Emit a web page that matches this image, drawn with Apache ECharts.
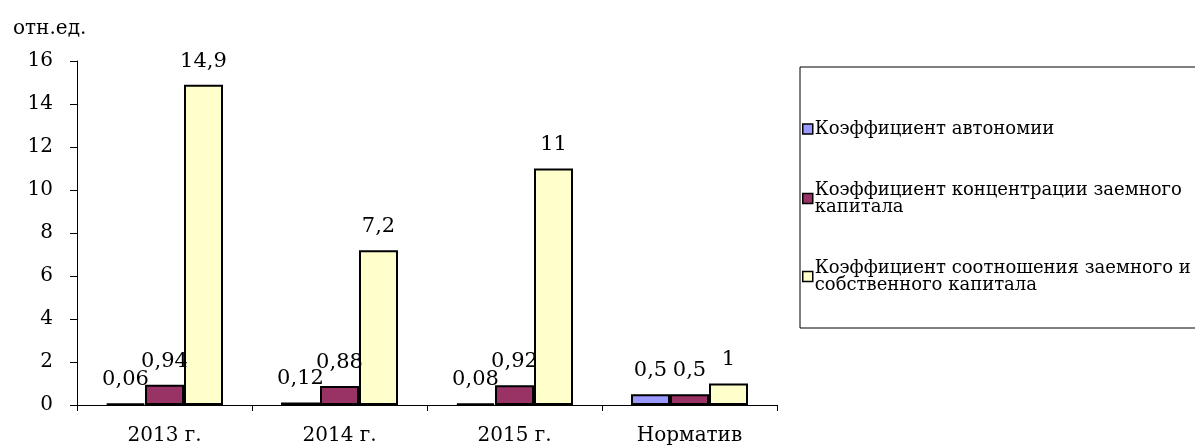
<!DOCTYPE html>
<html>
<head>
<meta charset="utf-8">
<script src="https://cdn.jsdelivr.net/npm/echarts@6/dist/echarts.min.js"></script>
<style>
html,body{margin:0;padding:0;background:#fff;}
#chart{width:1195px;height:448px;}
</style>
</head>
<body>
<div id="chart"></div>
<script>
const categories = ['2013 г.', '2014 г.', '2015 г.', 'Норматив'];
const seriesNames = ['Коэффициент автономии', 'Коэффициент концентрации заемного капитала', 'Коэффициент соотношения заемного и собственного капитала'];
const autonomy = [0.06, 0.12, 0.08, 0.5];
const concentration = [0.94, 0.88, 0.92, 0.5];
const ratio = [14.9, 7.2, 11, 1];
const colors = ['#9999FF', '#993366', '#FFFFCC'];
const legendWrapped = {
  'Коэффициент автономии': 'Коэффициент автономии',
  'Коэффициент концентрации заемного капитала': 'Коэффициент концентрации заемного\nкапитала',
  'Коэффициент соотношения заемного и собственного капитала': 'Коэффициент соотношения заемного и\nсобственного капитала'
};
const FONT = '"DejaVu Serif", "Liberation Serif", serif';

const chart = echarts.init(document.getElementById('chart'));
function mkSeries(i, data) {
  return {
    name: seriesNames[i],
    type: 'bar',
    data: data,
    barWidth: 39,
    barGap: '0%',
    itemStyle: { color: colors[i], borderColor: '#000', borderWidth: 2 },
    label: {
      show: true, position: 'top', distance: 13,
      fontFamily: FONT, fontSize: 21, color: '#000',
      formatter: p => String(p.value).replace('.', ',')
    }
  };
}
chart.setOption({
  animation: false,
  title: {
    text: 'отн.ед.', left: 8, top: 14,
    textStyle: { fontFamily: FONT, fontSize: 20, fontWeight: 'normal', color: '#000' }
  },
  grid: { left: 77, right: 418, top: 61, bottom: 43 },
  legend: {
    orient: 'vertical', left: 800, top: 67,
    width: 460,
    padding: [53, 60, 34, 2],
    itemGap: 43,
    itemWidth: 10, itemHeight: 10,
    borderColor: '#000', borderWidth: 1,
    icon: 'rect',
    itemStyle: { borderColor: '#000', borderWidth: 1.5 },
    textStyle: { fontFamily: FONT, fontSize: 18, color: '#000', lineHeight: 17, padding: [0, 0, 0, -3] },
    formatter: n => legendWrapped[n] || n,
    data: seriesNames
  },
  xAxis: {
    type: 'category', data: categories,
    axisLine: { show: true, lineStyle: { color: '#000', width: 1 } },
    axisTick: { show: true, alignWithLabel: false, length: 6, lineStyle: { color: '#000' } },
    axisLabel: { fontFamily: FONT, fontSize: 20, color: '#000', margin: 21 }
  },
  yAxis: {
    type: 'value', min: 0, max: 16, interval: 2,
    axisLine: { show: true, lineStyle: { color: '#000', width: 1 } },
    axisTick: { show: true, length: 7, lineStyle: { color: '#000' } },
    splitLine: { show: false },
    axisLabel: { fontFamily: FONT, fontSize: 20, color: '#000', margin: 24 }
  },
  series: [mkSeries(0, autonomy), mkSeries(1, concentration), mkSeries(2, ratio)]
});
</script>
</body>
</html>
